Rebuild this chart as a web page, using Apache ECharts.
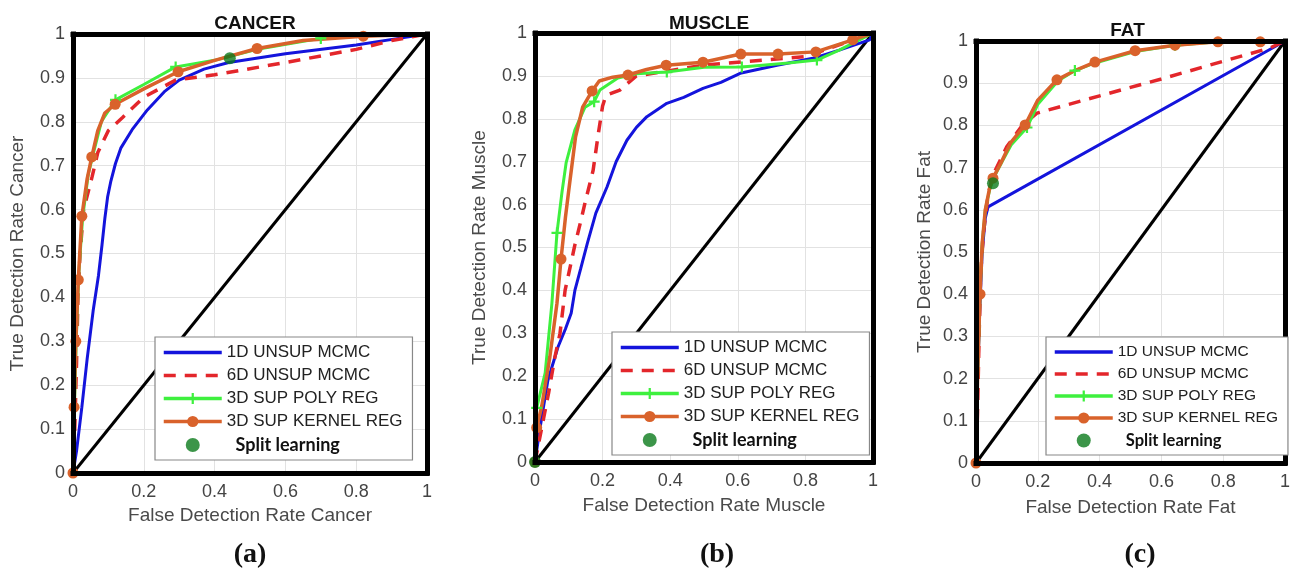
<!DOCTYPE html>
<html>
<head>
<meta charset="utf-8">
<script src="https://cdn.jsdelivr.net/npm/echarts@6/dist/echarts.min.js"></script>
<style>
  html, body { margin: 0; padding: 0; background: #fff; }
  #main { width: 1295px; height: 569px; }
</style>
</head>
<body>
<div id="main"></div>
<script>
// legend names
var names = ['1D UNSUP MCMC', '6D UNSUP MCMC', '3D SUP POLY REG', '3D SUP KERNEL REG', 'Split learning'];
var titles = ['CANCER', 'MUSCLE', 'FAT'];
var tissue = ['Cancer', 'Muscle', 'Fat'];
var panelTags = ['(a)', '(b)', '(c)'];
var xTicks = [0, 0.2, 0.4, 0.6, 0.8, 1];
var yTicks = [0, 0.1, 0.2, 0.3, 0.4, 0.5, 0.6, 0.7, 0.8, 0.9, 1];

// (a) cancer
var blueA = [[0,0],[0.01,0.05],[0.025,0.15],[0.04,0.26],[0.057,0.37],[0.072,0.45],[0.082,0.52],[0.09,0.58],[0.098,0.63],[0.107,0.665],[0.12,0.705],[0.135,0.74],[0.167,0.782],[0.21,0.827],[0.26,0.87],[0.3,0.895],[0.37,0.92],[0.44,0.935],[0.6,0.955],[0.8,0.975],[0.92,0.99],[1,1]];
var redA = [[0,0],[0.005,0.1],[0.01,0.25],[0.014,0.4],[0.02,0.5],[0.03,0.6],[0.054,0.675],[0.07,0.73],[0.1,0.78],[0.14,0.81],[0.2,0.856],[0.29,0.895],[0.4,0.907],[0.6,0.935],[0.8,0.965],[0.9,0.985],[1,1]];
var polyA = [[0,0],[0.004,0.15],[0.009,0.3],[0.016,0.45],[0.027,0.58],[0.043,0.68],[0.058,0.73],[0.08,0.8],[0.12,0.85],[0.2,0.885],[0.29,0.925],[0.4,0.94],[0.52,0.965],[0.7,0.99],[0.85,1],[1,1]];
var polyAMarks = [8, 10, 13];
var kernelA = [[0,0],[0.003,0.15],[0.008,0.3],[0.015,0.44],[0.025,0.585],[0.04,0.67],[0.053,0.72],[0.07,0.78],[0.09,0.82],[0.119,0.84],[0.2,0.875],[0.297,0.914],[0.4,0.94],[0.52,0.967],[0.65,0.985],[0.82,0.995],[1,1]];
var kernelAMarks = [0, 1, 2, 3, 4, 6, 9, 11, 13, 15];
var splitA = [[0.443, 0.945]];

// (b) muscle
var blueB = [[0,0],[0.015,0.08],[0.038,0.19],[0.068,0.268],[0.09,0.31],[0.107,0.347],[0.118,0.4],[0.135,0.45],[0.155,0.51],[0.18,0.58],[0.213,0.641],[0.24,0.7],[0.272,0.75],[0.3,0.78],[0.331,0.805],[0.39,0.836],[0.44,0.85],[0.497,0.871],[0.55,0.885],[0.607,0.906],[0.716,0.925],[0.822,0.941],[0.9,0.96],[0.99,0.984],[1,1]];
var redB = [[0,0],[0.02,0.08],[0.04,0.16],[0.059,0.245],[0.074,0.3],[0.089,0.4],[0.118,0.506],[0.135,0.56],[0.148,0.604],[0.172,0.68],[0.186,0.758],[0.2,0.83],[0.21,0.855],[0.251,0.867],[0.3,0.9],[0.5,0.925],[0.8,0.945],[1,1]];
var polyB = [[0,0],[0.005,0.126],[0.03,0.207],[0.05,0.37],[0.065,0.534],[0.08,0.63],[0.092,0.697],[0.118,0.774],[0.148,0.827],[0.175,0.84],[0.192,0.867],[0.245,0.895],[0.3,0.905],[0.39,0.909],[0.5,0.92],[0.612,0.921],[0.75,0.93],[0.834,0.937],[0.9,0.96],[0.95,0.98],[1,1]];
var polyBMarks = [1, 4, 9, 13, 15, 17];
var kernelB = [[0,0],[0.005,0.08],[0.02,0.13],[0.044,0.245],[0.065,0.37],[0.077,0.473],[0.09,0.57],[0.1,0.634],[0.12,0.758],[0.141,0.827],[0.169,0.865],[0.19,0.888],[0.23,0.897],[0.275,0.902],[0.33,0.915],[0.388,0.925],[0.497,0.932],[0.609,0.951],[0.719,0.951],[0.831,0.956],[0.94,0.984],[1,1]];
var kernelBMarks = [0, 1, 5, 10, 13, 15, 16, 17, 18, 19, 20];
var splitB = [[0, 0]];

// (c) fat
var blueC = [[0,0],[0.005,0.2],[0.012,0.36],[0.02,0.5],[0.03,0.58],[0.039,0.607],[1,1]];
var redC = [[0,0],[0.005,0.12],[0.01,0.3],[0.015,0.45],[0.025,0.55],[0.04,0.64],[0.06,0.69],[0.1,0.75],[0.15,0.8],[0.197,0.829],[0.4,0.87],[0.6,0.91],[0.8,0.952],[0.95,0.983],[1,1]];
var polyC = [[0,0],[0.005,0.2],[0.013,0.4],[0.02,0.52],[0.03,0.6],[0.045,0.65],[0.06,0.68],[0.085,0.715],[0.115,0.755],[0.165,0.795],[0.2,0.85],[0.265,0.905],[0.32,0.93],[0.385,0.948],[0.515,0.975],[0.644,0.99],[0.783,0.998],[0.92,0.999],[1,1]];
var polyCMarks = [9, 12, 15];
var kernelC = [[0,0],[0.005,0.2],[0.013,0.4],[0.02,0.52],[0.03,0.6],[0.045,0.655],[0.055,0.675],[0.08,0.71],[0.113,0.76],[0.159,0.801],[0.2,0.86],[0.262,0.908],[0.32,0.93],[0.385,0.95],[0.515,0.977],[0.644,0.99],[0.783,0.998],[0.92,0.998],[1,1]];
var kernelCMarks = [0, 2, 6, 9, 11, 13, 14, 15, 16, 17];
var splitC = [[0.055, 0.663]];

var chance = [[0, 0], [1, 1]];

var panels = [
  { blue: blueA, red: redA, poly: polyA, polyMarks: polyAMarks, kernel: kernelA, kernelMarks: kernelAMarks, split: splitA },
  { blue: blueB, red: redB, poly: polyB, polyMarks: polyBMarks, kernel: kernelB, kernelMarks: kernelBMarks, split: splitB },
  { blue: blueC, red: redC, poly: polyC, polyMarks: polyCMarks, kernel: kernelC, kernelMarks: kernelCMarks, split: splitC }
];

// layout in px
var boxes = [
  { left: 73, top: 34, width: 354, height: 439 },
  { left: 535, top: 33, width: 338, height: 429 },
  { left: 976, top: 41, width: 309, height: 422 }
];
var legendPos = [
  { left: 155, top: 337, font: 17 },
  { left: 612, top: 332, font: 17 },
  { left: 1046, top: 337, font: 15.5 }
];
var yNameGap = [46, 46, 42];
var xNameGap = [32, 34, 35];

var FONT = '"Liberation Sans", Arial, sans-serif';
var plusPath = 'path://M4,0h2v4h4v2h-4v4h-2v-4h-4v-2h4z';

function withMarks(pts, marks) {
  return pts.map(function (p, i) {
    return marks.indexOf(i) >= 0 ? p : { value: p, symbol: 'none' };
  });
}

function frameAxis(k, pos) {
  return {
    type: 'value', gridIndex: k, position: pos, min: 0, max: 1, z: 10,
    axisLine: { show: true, onZero: false, lineStyle: { color: '#000', width: 5, cap: 'square' } },
    axisTick: { show: false }, axisLabel: { show: false }, splitLine: { show: false }
  };
}

var option = {
  animation: false,
  backgroundColor: '#fff',
  title: [],
  grid: [],
  xAxis: [],
  yAxis: [],
  legend: [],
  series: []
};

panels.forEach(function (p, k) {
  var b = boxes[k];
  option.grid.push({ left: b.left, top: b.top, width: b.width, height: b.height });
  option.title.push({
    text: titles[k], left: b.left + b.width / 2 + (k === 2 ? -8 : 0), top: k === 2 ? 16 : 9, textAlign: 'center',
    textStyle: { fontFamily: FONT, fontWeight: 'bold', fontSize: 19, color: '#111' }
  });
  option.title.push({
    text: panelTags[k], left: [245, 712, 1135][k], top: 536, textAlign: 'center',
    textStyle: { fontFamily: '"Liberation Serif", "Times New Roman", serif', fontWeight: 'bold', fontSize: 28, color: '#111' }
  });
  option.xAxis.push({
    type: 'value', gridIndex: k, min: 0, max: 1, interval: 0.2,
    name: 'False Detection Rate ' + tissue[k], nameLocation: 'middle', nameGap: xNameGap[k],
    nameTextStyle: { fontFamily: FONT, fontSize: 19, color: '#4a4a4a' },
    axisLine: { show: false }, axisTick: { show: false },
    axisLabel: { fontFamily: FONT, fontSize: 18, color: '#444', margin: 10,
      formatter: function (v) { return xTicks.indexOf(+v.toFixed(1)) >= 0 ? String(+v.toFixed(1)) : ''; } },
    splitLine: { show: true, lineStyle: { color: '#e2e2e2', width: 1 } }
  });
  option.yAxis.push({
    type: 'value', gridIndex: k, min: 0, max: 1, interval: 0.1,
    name: 'True Detection Rate ' + tissue[k], nameLocation: 'middle', nameGap: yNameGap[k],
    nameTextStyle: { fontFamily: FONT, fontSize: 19, color: '#4a4a4a' },
    axisLine: { show: false }, axisTick: { show: false },
    axisLabel: { fontFamily: FONT, fontSize: 18, color: '#444', margin: 8,
      formatter: function (v) { return yTicks.indexOf(+v.toFixed(1)) >= 0 ? String(+v.toFixed(1)) : ''; } },
    splitLine: { show: true, lineStyle: { color: '#e2e2e2', width: 1 } }
  });
  var lp = legendPos[k];
  var hideSym = { opacity: 0 };
  option.legend.push({
    left: lp.left, top: lp.top, orient: 'vertical', z: 20,
    padding: [7, 10, 6, 7], itemWidth: 58, itemHeight: 14, itemGap: 6,
    borderColor: '#888', borderWidth: 1.2, backgroundColor: '#fff',
    textStyle: { fontFamily: FONT, fontSize: lp.font, color: '#222' },
    lineStyle: { width: 3.5 },
    selectedMode: false,
    data: [
      { name: names[0], itemStyle: hideSym },
      { name: names[1], itemStyle: hideSym },
      names[2],
      names[3],
      { name: names[4], textStyle: { fontFamily: 'Lato, "Open Sans", sans-serif', fontWeight: 'bold', fontSize: lp.font + 1, color: '#111' } }
    ],
    formatter: function (n) { return n === names[4] ? '  ' + n : n; }
  });

  var common = { xAxisIndex: k, yAxisIndex: k, type: 'line', z: 3 };
  option.series.push(Object.assign({}, common, {
    name: 'diag', data: chance, symbol: 'none', lineStyle: { color: '#000', width: 3 }, z: 2
  }));
  option.series.push(Object.assign({}, common, {
    name: names[0], data: p.blue, symbol: 'none',
    lineStyle: { color: '#1414dc', width: 3 }, itemStyle: { color: '#1414dc' }
  }));
  option.series.push(Object.assign({}, common, {
    name: names[1], data: p.red, symbol: 'none',
    lineStyle: { color: '#e3262b', width: 3.5, type: [12, 9] }, itemStyle: { color: '#e3262b' }
  }));
  option.series.push(Object.assign({}, common, {
    name: names[2], data: withMarks(p.poly, p.polyMarks), symbol: plusPath, symbolSize: 11,
    lineStyle: { color: '#3ef03e', width: 3 }, itemStyle: { color: '#3ef03e' }
  }));
  option.series.push(Object.assign({}, common, {
    name: names[3], data: withMarks(p.kernel, p.kernelMarks), symbol: 'circle', symbolSize: 11,
    lineStyle: { color: '#d9622b', width: 3.5 }, itemStyle: { color: '#d9622b' }
  }));
  option.series.push({
    name: names[4], type: 'scatter', xAxisIndex: k, yAxisIndex: k, data: p.split,
    symbol: 'circle', symbolSize: 12, itemStyle: { color: '#0b7a1c' }, z: 5
  });
});

// thick box frame on all four sides (axes 3..)
[0, 1, 2].forEach(function (k) {
  option.xAxis.push(frameAxis(k, 'bottom'), frameAxis(k, 'top'));
  option.yAxis.push(frameAxis(k, 'left'), frameAxis(k, 'right'));
});

var chart = echarts.init(document.getElementById('main'));
chart.setOption(option);
</script>
</body>
</html>
